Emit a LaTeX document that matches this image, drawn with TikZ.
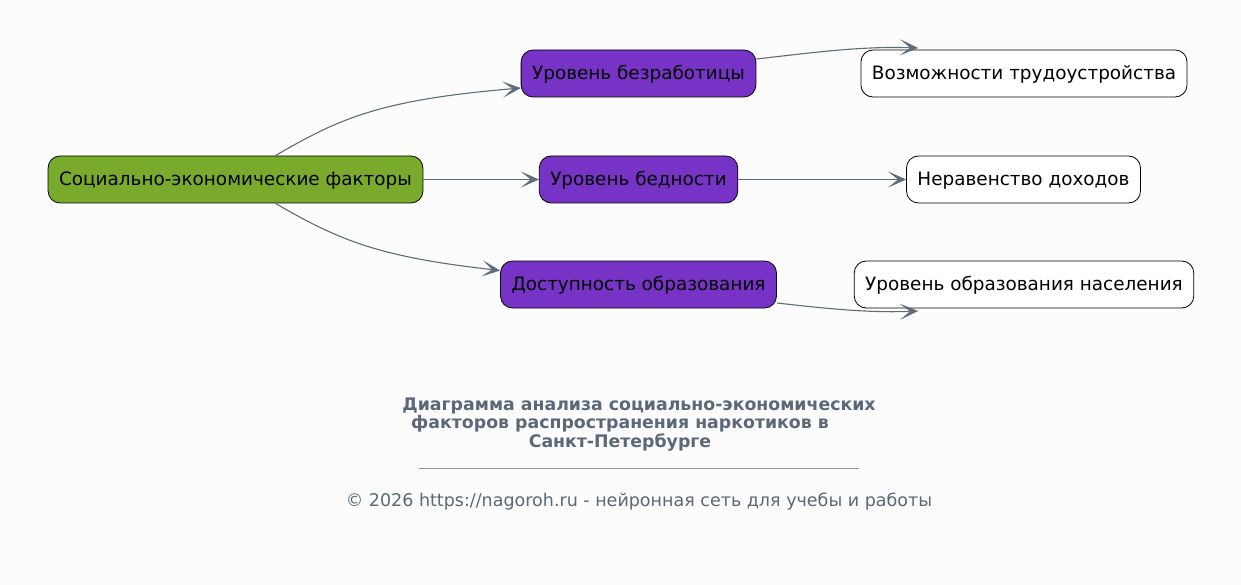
\documentclass[tikz,border=0pt]{standalone}
\usepackage{fontspec}
\setmainfont{DejaVu Sans}
\usepackage{xcolor}
\usetikzlibrary{arrows.meta}
\usetikzlibrary{calc}
\usetikzlibrary{positioning}

\definecolor{bgcol}{HTML}{FCFCFC}
\definecolor{rootgreen}{HTML}{7AAA2C}
\definecolor{factorpurple}{HTML}{7733C6}
\definecolor{edgegray}{HTML}{5F6C7B}
\definecolor{titlegray}{HTML}{5A6878}

\tikzstyle{box} = [draw=black,line width=0.8pt,rounded corners=12pt,minimum height=47pt,inner xsep=11pt,text height=15pt,text depth=2.5pt,font=\fontsize{18.4}{22}\selectfont,text=black]
\tikzstyle{rootbox} = [box,fill=rootgreen]
\tikzstyle{factorbox} = [box,fill=factorpurple]
\tikzstyle{effectbox} = [box,fill=white]
\tikzstyle{arrow} = [line width=1.1pt,draw=edgegray,-{Stealth[length=18pt,width=16pt,inset=10pt,line width=0.6pt]}]
\tikzstyle{titletext} = [font=\fontsize{17.33}{20}\bfseries\selectfont,text=titlegray]

\begin{document}
\begin{tikzpicture}[x=1pt,y=-1pt]

    \useasboundingbox[fill=bgcol] (0,0) rectangle (1241,585); % whole canvas

    % left column
    \node[rootbox] (soc) at (235.5,179.5) {Социально-экономические факторы};

    % middle column
    \node[factorbox] (unemp) at (638.5,73.5) {Уровень безработицы};
    \node[factorbox] (pov)   at (638.5,179.5) {Уровень бедности};
    \node[factorbox] (edu)   at (638.5,284.5) {Доступность образования};

    % right column
    \node[effectbox] (jobs)  at (1024,73.5) {Возможности трудоустройства};
    \node[effectbox] (ineq)  at (1023.5,179.5) {Неравенство доходов};
    \node[effectbox] (lit)   at (1024,284.5) {Уровень образования населения};

    % arrow ends above / below the right boxes
    \coordinate (jobsend) at (918,48);
    \coordinate (litend)  at (918,311);

    \draw [arrow] ($(soc.north)+(40,0)$) .. controls (340,118) and (380,100) .. ($(unemp.west)+(0,14.5)$);
    \draw [arrow] (soc.east) -- (pov.west);
    \draw [arrow] ($(soc.south)+(40,0)$) .. controls (340,241) and (380,257) .. ($(edu.west)+(0,-14)$);

    \draw [arrow] ($(unemp.east)+(0,-14.5)$) .. controls (810,53) and (860,46) .. (jobsend);
    \draw [arrow] (pov.east) -- (ineq.west);
    \draw [arrow] ($(edu.east)+(0,18.5)$) .. controls (830,309) and (870,313) .. (litend);

    % title and footer
    \node[titletext] (t1) at (639,406) {Диаграмма анализа социально-экономических};
    \node[titletext] (t2) at (620,424) {факторов распространения наркотиков в};
    \node[titletext] (t3) at (620,442) {Санкт-Петербурге};
    \coordinate (ruleL) at (419,468);
    \coordinate (ruleR) at (859,468);
    \draw[titlegray!70,line width=0.5pt] (ruleL) -- (ruleR);
    \node[font=\fontsize{17.5}{20}\selectfont,text=titlegray] (foot) at (639,502) {© 2026 https://nagoroh.ru - нейронная сеть для учебы и работы};

\end{tikzpicture}
\end{document}
